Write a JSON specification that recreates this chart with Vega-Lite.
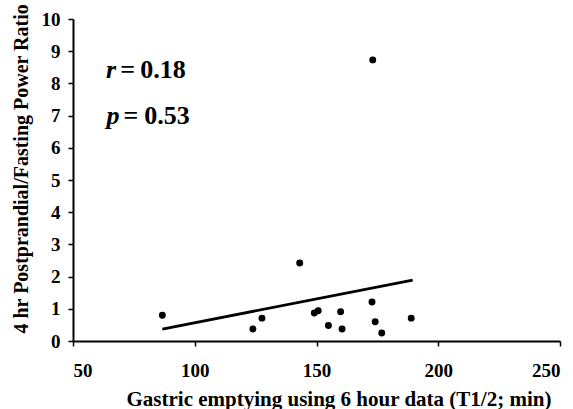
{
  "$schema": "https://vega.github.io/schema/vega-lite/v6.json",
  "width": 487,
  "height": 322,
  "autosize": {"type": "none"},
  "padding": {"left": 73, "top": 19, "right": 13, "bottom": 68},
  "background": "white",
  "config": {
    "view": {"stroke": null},
    "font": "Liberation Serif"
  },
  "encoding": {
    "x": {
      "field": "t", "type": "quantitative",
      "scale": {"domain": [50, 250], "nice": false, "zero": false},
      "axis": {
        "values": [50, 100, 150, 200, 250],
        "grid": false,
        "domainColor": "black",
        "domainWidth": 2,
        "tickColor": "black",
        "tickWidth": 1.5,
        "tickSize": 5,
        "labelColor": "black",
        "labelFont": "Liberation Serif",
        "labelFontWeight": "bold",
        "labelFontSize": 19,
        "labelOverlap": false,
        "labelPadding": 15,
        "title": "Gastric emptying using 6 hour data (T1/2; min)",
        "titleColor": "black",
        "titleFont": "Liberation Serif",
        "titleFontWeight": "bold",
        "titleFontSize": 21,
        "titleAnchor": "start",
        "titleAlign": "left",
        "titleX": 53,
        "titleY": 64,
        "titleBaseline": "alphabetic"
      }
    },
    "y": {
      "field": "ratio", "type": "quantitative",
      "scale": {"domain": [0, 10], "nice": false},
      "axis": {
        "values": [0, 1, 2, 3, 4, 5, 6, 7, 8, 9, 10],
        "grid": false,
        "domainColor": "black",
        "domainWidth": 2,
        "tickColor": "black",
        "tickWidth": 1.5,
        "tickSize": 5,
        "labelColor": "black",
        "labelFont": "Liberation Serif",
        "labelFontWeight": "bold",
        "labelFontSize": 19,
        "labelOverlap": false,
        "labelPadding": 8,
        "title": "4 hr Postprandial/Fasting Power Ratio",
        "titleColor": "black",
        "titleFont": "Liberation Serif",
        "titleFontWeight": "bold",
        "titleFontSize": 20,
        "titleAngle": 270,
        "titleAlign": "left",
        "titleBaseline": "middle",
        "titleAnchor": "start",
        "titleX": -52,
        "titleY": 314
      }
    }
  },
  "layer": [
    {
      "data": {"values": [
        {"t": 86.7, "ratio": 0.80},
        {"t": 123.9, "ratio": 0.37},
        {"t": 127.6, "ratio": 0.71},
        {"t": 143.1, "ratio": 2.42},
        {"t": 149.1, "ratio": 0.87},
        {"t": 150.7, "ratio": 0.94},
        {"t": 154.9, "ratio": 0.48},
        {"t": 159.9, "ratio": 0.91},
        {"t": 160.5, "ratio": 0.37},
        {"t": 172.8, "ratio": 1.21},
        {"t": 173.1, "ratio": 8.73},
        {"t": 174.1, "ratio": 0.60},
        {"t": 176.8, "ratio": 0.25},
        {"t": 188.9, "ratio": 0.71}
      ]},
      "mark": {"type": "point", "filled": true, "color": "black", "opacity": 1, "size": 48}
    },
    {
      "data": {"values": [
        {"t": 86.7, "ratio": 0.37},
        {"t": 189.5, "ratio": 1.89}
      ]},
      "mark": {"type": "line", "color": "black", "strokeWidth": 2.8}
    },
    {
      "data": {"values": [
        {"t": 65.6, "ratio": 8.17, "label": "r"},
        {"t": 66.4, "ratio": 6.74, "label": "p"}
      ]},
      "mark": {"type": "text", "font": "Liberation Serif", "fontSize": 26, "fontWeight": "bold", "fontStyle": "italic", "align": "center", "baseline": "alphabetic", "color": "black"},
      "encoding": {"text": {"field": "label"}}
    },
    {
      "data": {"values": [
        {"t": 72.4, "ratio": 8.17, "label": "="},
        {"t": 73.8, "ratio": 6.74, "label": "="},
        {"t": 87.0, "ratio": 8.17, "label": "0.18"},
        {"t": 88.6, "ratio": 6.74, "label": "0.53"}
      ]},
      "mark": {"type": "text", "font": "Liberation Serif", "fontSize": 26, "fontWeight": "bold", "align": "center", "baseline": "alphabetic", "color": "black"},
      "encoding": {"text": {"field": "label"}}
    }
  ]
}
